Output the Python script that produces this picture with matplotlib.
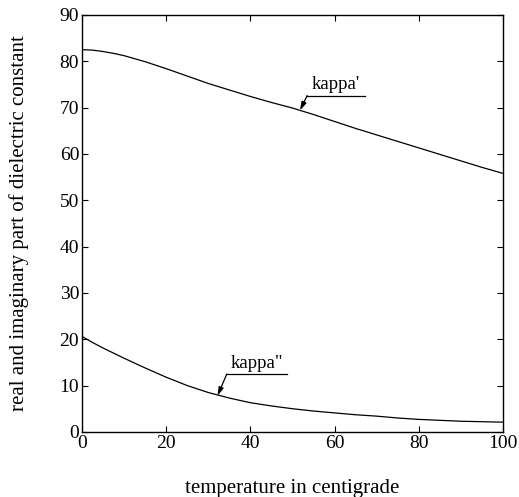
import matplotlib
matplotlib.use("Agg")
import matplotlib.pyplot as plt

plt.rcParams["font.family"] = ["Liberation Serif", "DejaVu Serif"]

temperature = [0, 2.5, 5, 7.5, 10, 15, 20, 25, 30, 35, 40, 45, 50,
               55, 60, 65, 70, 75, 80, 85, 90, 95, 100]
kappa_real = [82.5, 82.4, 82.1, 81.7, 81.2, 79.9, 78.4, 76.8, 75.2, 73.8, 72.4, 71.1, 69.9,
              68.5, 67.0, 65.5, 64.1, 62.7, 61.3, 59.9, 58.5, 57.1, 55.8]
kappa_imag = [20.6, 19.3, 18.1, 17.0, 15.9, 13.8, 11.8, 10.0, 8.5, 7.3, 6.3, 5.6, 5.0,
              4.5, 4.1, 3.7, 3.4, 3.0, 2.7, 2.5, 2.3, 2.2, 2.1]

x_ticks = [0, 20, 40, 60, 80, 100]
y_ticks = [0, 10, 20, 30, 40, 50, 60, 70, 80, 90]

# (label, arrow tip, underline start, underline end)
labels = [
    ("kappa'", (51.8, 69.4), (53.5, 72.6), (67.2, 72.6)),
    ('kappa"', (32.2, 7.8), (34.4, 12.5), (48.7, 12.5)),
]

fig = plt.figure(figsize=(5.19, 4.97), dpi=100)
ax = fig.add_axes([0.158, 0.131, 0.811, 0.839])

ax.plot(temperature, kappa_real, color="black", lw=0.9)
ax.plot(temperature, kappa_imag, color="black", lw=0.9)

for text, tip, start, end in labels:
    ax.plot([start[0], end[0]], [start[1], end[1]], color="black", lw=0.9)
    ax.annotate("", xy=tip, xytext=start,
                arrowprops=dict(arrowstyle="-|>,head_length=0.5,head_width=0.15",
                                color="black", lw=0.9, shrinkA=0, shrinkB=0))
    ax.text((start[0] + end[0]) / 2, start[1] + 0.5, text,
            ha="center", va="bottom", fontsize=13.5)

ax.set_xlim(0, 100)
ax.set_ylim(0, 90)
ax.set_xticks(x_ticks)
ax.set_yticks(y_ticks)
ax.tick_params(direction="in", top=True, right=True, length=4, width=0.8,
               labelsize=14, pad=2)
for spine in ax.spines.values():
    spine.set_linewidth(1.0)

ax.set_xlabel("temperature in centigrade", fontsize=15, labelpad=20)
ax.set_ylabel("real and imaginary part of dielectric constant", fontsize=15, labelpad=22)

fig.savefig("out.png", dpi=100)
